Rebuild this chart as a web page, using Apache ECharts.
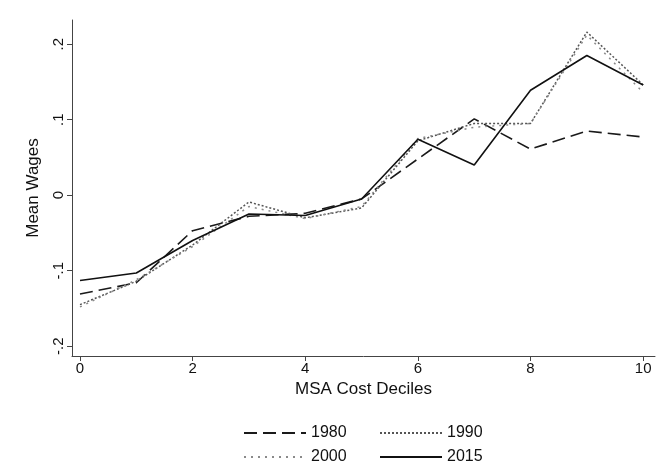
<!DOCTYPE html>
<html>
<head>
<meta charset="utf-8">
<script src="https://cdn.jsdelivr.net/npm/echarts@6/dist/echarts.min.js"></script>
<style>
html,body{margin:0;padding:0;background:#fff;}
#chart{width:661px;height:476px;}
</style>
</head>
<body>
<div id="chart"></div>
<script>
const deciles = [0, 1, 2, 3, 4, 5, 6, 7, 8, 9, 10];
const wages1980 = [-0.131, -0.116, -0.047, -0.028, -0.024, -0.005, 0.048, 0.101, 0.061, 0.085, 0.077];
const wages1990 = [-0.145, -0.114, -0.066, -0.009, -0.030, -0.017, 0.072, 0.095, 0.095, 0.216, 0.146];
const wages2000 = [-0.148, -0.112, -0.068, -0.015, -0.031, -0.015, 0.075, 0.090, 0.095, 0.212, 0.136];
const wages2015 = [-0.113, -0.103, -0.060, -0.025, -0.027, -0.005, 0.074, 0.040, 0.139, 0.185, 0.146];
const xTicks = [0, 2, 4, 6, 8, 10];
const yTicks = [-0.2, -0.1, 0, 0.1, 0.2];
const seriesNames = ['1980', '1990', '2000', '2015'];

const FONT = '"Liberation Sans", Arial, sans-serif';
const pair = arr => deciles.map((d, i) => [d, arr[i]]);
const styles = {
  '1980': {color: '#1a1a1a', width: 1.6, type: [13, 6]},
  '1990': {color: '#555555', width: 1.5, type: [2, 2]},
  '2000': {color: '#8a8a8a', width: 1.5, type: [2, 5]},
  '2015': {color: '#111111', width: 1.6, type: 'solid'}
};
const values = {'1980': wages1980, '1990': wages1990, '2000': wages2000, '2015': wages2015};

const fmtY = v => {
  if (Math.abs(v) < 1e-9) return '0';
  const s = Math.abs(v).toFixed(1).replace(/^0/, '');
  return (v < 0 ? '-' : '') + s;
};

const legendPos = {
  '1980': {left: 238, top: 420},
  '1990': {left: 374, top: 420},
  '2000': {left: 238, top: 444},
  '2015': {left: 374, top: 444}
};

const chart = echarts.init(document.getElementById('chart'), null, {renderer: 'canvas'});
chart.setOption({
  backgroundColor: '#ffffff',
  animation: false,
  grid: {left: 72, right: 6, top: 20, bottom: 120},
  xAxis: {
    type: 'value',
    min: -0.142, max: 10.21,
    name: 'MSA Cost Deciles',
    nameLocation: 'middle',
    nameGap: 25,
    nameTextStyle: {fontFamily: FONT, fontSize: 17, color: '#111'},
    axisLine: {show: true, onZero: false, lineStyle: {color: '#444', width: 1}},
    axisTick: {show: true, length: 5, customValues: xTicks, lineStyle: {color: '#444'}},
    axisLabel: {customValues: xTicks, fontFamily: FONT, fontSize: 15, color: '#111', margin: 5},
    splitLine: {show: false}
  },
  yAxis: {
    type: 'value',
    min: -0.213, max: 0.232,
    name: 'Mean Wages',
    nameLocation: 'middle',
    nameGap: 30,
    nameRotate: 90,
    nameTextStyle: {fontFamily: FONT, fontSize: 17, color: '#111'},
    axisLine: {show: true, onZero: false, lineStyle: {color: '#444', width: 1}},
    axisTick: {show: true, length: 5, customValues: yTicks, lineStyle: {color: '#444'}},
    axisLabel: {customValues: yTicks, rotate: 90, formatter: fmtY, fontFamily: FONT, fontSize: 15, color: '#111', margin: 6},
    splitLine: {show: false}
  },
  legend: seriesNames.map(n => ({
    data: [n],
    left: legendPos[n].left,
    top: legendPos[n].top,
    itemWidth: 62,
    itemHeight: 14,
    itemGap: 10,
    itemStyle: {color: 'rgba(0,0,0,0)', borderWidth: 0, opacity: 0},
    textStyle: {fontFamily: FONT, fontSize: 16, color: '#111'},
    selectedMode: false
  })),
  series: seriesNames.map(n => ({
    name: n,
    type: 'line',
    data: pair(values[n]),
    symbol: 'none',
    lineStyle: {color: styles[n].color, width: styles[n].width, type: styles[n].type},
    itemStyle: {color: styles[n].color},
    z: n === '2015' ? 5 : 3
  }))
});
</script>
</body>
</html>
